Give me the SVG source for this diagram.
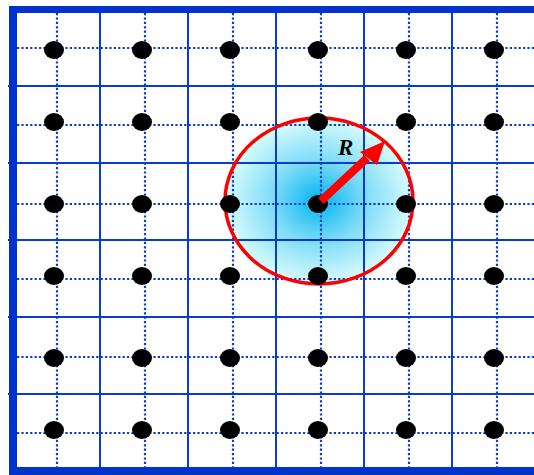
<svg xmlns="http://www.w3.org/2000/svg" width="534" height="475" viewBox="0 0 534 475">
<style>
.grid{stroke:#0a3ccc;stroke-width:2;fill:none}
.dot{stroke:#0a3ccc;stroke-width:2.2;stroke-dasharray:2.2 2.2;fill:none}
.node{fill:#000}
.border{fill:#0033cc}
</style>
<defs>
<radialGradient id="glow" cx="50%" cy="50%" r="50%">
<stop offset="0" stop-color="#00b4f0"/>
<stop offset="0.5" stop-color="#7fdcf8"/>
<stop offset="1" stop-color="#d8fcfc"/>
</radialGradient>
</defs>
<rect x="0" y="0" width="534" height="475" fill="#fff"/>
<g id="grid">
<path class="grid" d="M100 10V470M188 10V470M276 10V470M364 10V470M452 10V470"/>
<path class="grid" d="M8 86H534M8 163H534M8 240H534M8 317H534M8 394H534"/>
</g>
<g id="region">
<ellipse cx="319" cy="201" rx="94" ry="83" fill="url(#glow)"/>
<path class="grid" d="M188 117V285M276 117V285M364 117V285M224 163H414M224 240H414"/>
</g>
<g id="dotted">
<path class="dot" d="M57 13V467M145 13V467M233 13V467M321 13V467M409 13V467M497 13V467"/>
<path class="dot" d="M17 48H534M17 125H534M17 204H534M17 279H534M17 357H534M17 433H534"/>
</g>
<ellipse cx="319" cy="201" rx="94" ry="83" fill="none" stroke="#f00" stroke-width="3.5"/>
<g id="nodes" class="node">
<g id="r1"><ellipse cx="54" cy="50" rx="10" ry="9"/><ellipse cx="142" cy="50" rx="10" ry="9"/><ellipse cx="230" cy="50" rx="10" ry="9"/><ellipse cx="318" cy="50" rx="10" ry="9"/><ellipse cx="406" cy="50" rx="10" ry="9"/><ellipse cx="494" cy="50" rx="10" ry="9"/></g>
<g id="r2"><ellipse cx="54" cy="122" rx="10" ry="9"/><ellipse cx="142" cy="122" rx="10" ry="9"/><ellipse cx="230" cy="122" rx="10" ry="9"/><ellipse cx="318" cy="122" rx="10" ry="9"/><ellipse cx="406" cy="122" rx="10" ry="9"/><ellipse cx="494" cy="122" rx="10" ry="9"/></g>
<g id="r3"><ellipse cx="54" cy="204" rx="10" ry="9"/><ellipse cx="142" cy="204" rx="10" ry="9"/><ellipse cx="230" cy="204" rx="10" ry="9"/><ellipse cx="318" cy="204" rx="10" ry="9"/><ellipse cx="406" cy="204" rx="10" ry="9"/><ellipse cx="494" cy="204" rx="10" ry="9"/></g>
<g id="r4"><ellipse cx="54" cy="276" rx="10" ry="9"/><ellipse cx="142" cy="276" rx="10" ry="9"/><ellipse cx="230" cy="276" rx="10" ry="9"/><ellipse cx="318" cy="276" rx="10" ry="9"/><ellipse cx="406" cy="276" rx="10" ry="9"/><ellipse cx="494" cy="276" rx="10" ry="9"/></g>
<g id="r5"><ellipse cx="54" cy="358" rx="10" ry="9"/><ellipse cx="142" cy="358" rx="10" ry="9"/><ellipse cx="230" cy="358" rx="10" ry="9"/><ellipse cx="318" cy="358" rx="10" ry="9"/><ellipse cx="406" cy="358" rx="10" ry="9"/><ellipse cx="494" cy="358" rx="10" ry="9"/></g>
<g id="r6"><ellipse cx="54" cy="430" rx="10" ry="9"/><ellipse cx="142" cy="430" rx="10" ry="9"/><ellipse cx="230" cy="430" rx="10" ry="9"/><ellipse cx="318" cy="430" rx="10" ry="9"/><ellipse cx="406" cy="430" rx="10" ry="9"/><ellipse cx="494" cy="430" rx="10" ry="9"/></g>
</g>
<g id="radius">
<path d="M321 201L367 158" stroke="#f00" stroke-width="8" fill="none"/>
<polygon points="385,141 377,165 360,152" fill="#f00"/>
<text x="338" y="155" font-family="Liberation Serif, serif" font-size="23" font-weight="bold" font-style="italic" fill="#000">R</text>
</g>
<g id="frame" class="border">
<rect x="9" y="6" width="525" height="7"/>
<rect x="9" y="6" width="8" height="469"/>
<rect x="9" y="467" width="525" height="8"/>
</g>
</svg>
